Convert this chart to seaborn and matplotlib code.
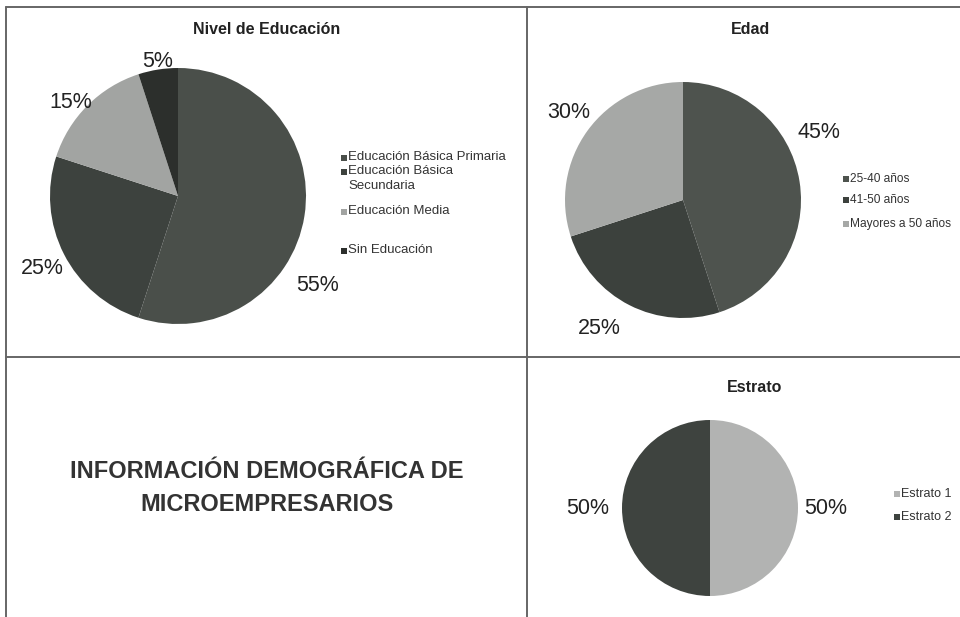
import matplotlib
matplotlib.use("Agg")
import matplotlib.pyplot as plt
from matplotlib.lines import Line2D
from matplotlib.patches import Rectangle
import seaborn as sns

# ---- data ----
edu_labels = ["Educación Básica Primaria", "Educación Básica\nSecundaria", "Educación Media", "Sin Educación"]
edu_values = [55, 25, 15, 5]
edad_labels = ["25-40 años", "41-50 años", "Mayores a 50 años"]
edad_values = [45, 25, 30]
estrato_labels = ["Estrato 1", "Estrato 2"]
estrato_values = [50, 50]

titles = ["Nivel de Educación", "Edad", "Estrato"]
main_text = "INFORMACIÓN DEMOGRÁFICA DE\nMICROEMPRESARIOS"

# ---- styles ----
edu_colors = ["#4a4f4a", "#3d423e", "#a2a4a2", "#2c2f2c"]
edad_colors = ["#4e534e", "#3c413d", "#a6a8a6"]
estrato_colors = ["#b2b3b2", "#3e433f"]

sns.set_theme(style="white")
plt.rcParams["font.family"] = ["Liberation Sans", "DejaVu Sans"]

W, H = 960, 617
fig = plt.figure(figsize=(W / 100, H / 100), dpi=100)
fig.patch.set_facecolor("white")


def fx(x):
    return x / W


def fy(y):
    return 1 - y / H


# grid lines
line_kw = dict(color="#666666", lw=1.4, transform=fig.transFigure)
fig.add_artist(Line2D([fx(6), fx(960)], [fy(7), fy(7)], **line_kw))
fig.add_artist(Line2D([fx(6), fx(6)], [fy(7), fy(617)], **line_kw))
fig.add_artist(Line2D([fx(527), fx(527)], [fy(7), fy(617)], **line_kw))
fig.add_artist(Line2D([fx(6), fx(960)], [fy(357), fy(357)], **line_kw))


def pie_panel(cx, cy, r, values, colors, label_pos):
    ax = fig.add_axes([fx(cx - r), fy(cy + r), 2 * r / W, 2 * r / H])
    wedges, texts = ax.pie(values, colors=colors, startangle=90, counterclock=False,
                           labels=[f"{v}%" for v in values], labeldistance=1.2,
                           wedgeprops=dict(linewidth=0))
    for t, (px, py) in zip(texts, label_pos):
        t.set_position((px, py))
        t.set_ha("center")
        t.set_va("center")
        t.set_fontsize(15.5)
        t.set_color("#222222")
        t.set_clip_on(False)
    ax.set_xlim(-1, 1)
    ax.set_ylim(-1, 1)
    ax.set_aspect("equal")
    ax.axis("off")
    return ax


pie_panel(178, 196, 128, edu_values, edu_colors,
          [(1.09, -0.70), (-1.06, -0.57), (-0.84, 0.73), (-0.16, 1.05)])
pie_panel(683, 200, 118, edad_values, edad_colors,
          [(1.15, 0.57), (-0.71, -1.09), (-0.97, 0.74)])
pie_panel(710, 508, 88, estrato_values, estrato_colors,
          [(1.32, 0.0), (-1.39, 0.0)])

# titles
title_kw = dict(ha="center", va="center", fontsize=11.5, fontweight="bold", color="#222222")
fig.text(fx(267), fy(30), titles[0], **title_kw)
fig.text(fx(750), fy(30), titles[1], **title_kw)
fig.text(fx(755), fy(388), titles[2], **title_kw)

# main text
fig.text(fx(267), fy(488), main_text, ha="center", va="center", fontsize=17,
         fontweight="bold", color="#333333", linespacing=1.6)


def legend(x, ys, labels, colors, fs):
    for y, lab, col in zip(ys, labels, colors):
        fig.add_artist(Rectangle((fx(x - 3), fy(y + 3)), 6 / W, 6 / H,
                                 transform=fig.transFigure, facecolor=col,
                                 edgecolor="none"))
        fig.text(fx(x + 4), fy(y - 0.7 * fs), lab, ha="left", va="top", fontsize=fs,
                 color="#333333", linespacing=1.25)


legend(344, [158, 172, 212, 251], edu_labels, edu_colors, 9.5)
legend(846, [179, 200, 224], edad_labels, edad_colors, 8.6)
legend(897, [494, 517], estrato_labels, estrato_colors, 9)

fig.savefig("out.png", dpi=100, facecolor="white")
